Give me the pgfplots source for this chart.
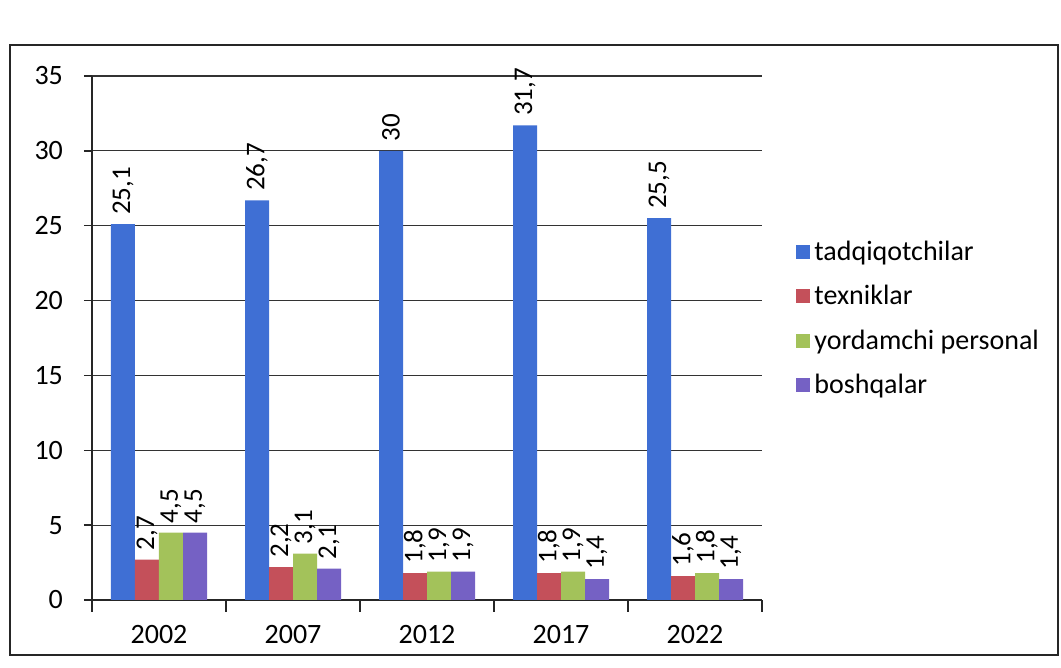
\documentclass[border=0pt]{standalone}
\usepackage{fontspec}
\setmainfont{Carlito}
\usepackage{pgfplots}
\pgfplotsset{compat=1.18}

\definecolor{cBlue}{HTML}{3F6FD4}
\definecolor{cRed}{HTML}{C4505A}
\definecolor{cGreen}{HTML}{A3C25A}
\definecolor{cPurple}{HTML}{7561C4}

\pgfplotsset{
  sq/.style={legend image code/.code={\fill[##1] (0pt,-3.5pt) rectangle (7pt,3.5pt);}},
}

\begin{document}
\begin{tikzpicture}
\useasboundingbox (-46pt,-34pt) rectangle (484.5pt,300pt);
\begin{axis}[
  at={(0,0)}, anchor=south west,
  scale only axis,
  width=335pt, height=262pt,
  ybar=0pt, bar width=12pt,
  xmin=-0.5, xmax=4.5, ymin=0, ymax=35,
  xtick={0,1,2,3,4},
  xticklabels={2002,2007,2012,2017,2022},
  minor xtick={-0.5,0.5,1.5,2.5,3.5,4.5},
  major x tick style={draw=none},
  minor tick length=6pt,
  ytick={0,5,...,35},
  major tick length=4pt,
  tick align=outside,
  axis x line*=bottom, axis y line*=left,
  axis line style={black!85, line width=0.7pt},
  ymajorgrids,
  major grid style={black!80, line width=0.6pt},
  tick style={black!85, line width=0.7pt},
  xticklabel style={yshift=-5pt},
  yticklabel style={xshift=-7pt},
  font=\fontsize{14}{16}\selectfont,
  /pgf/number format/assume math mode=true,
  /pgf/number format/use comma,
  /pgf/number format/1000 sep={},
  nodes near coords,
  every node near coord/.append style={rotate=90, anchor=west, font=\fontsize{13.5}{16}\selectfont, inner sep=4.5pt},
  legend style={draw=none, fill=none, at={(1,0.537)}, anchor=west, xshift=14pt,
    row sep=7pt, font=\fontsize{14}{16}\selectfont, cells={anchor=west}},
]
\addplot[fill=cBlue, draw=none, sq] coordinates {(0,25.1) (1,26.7) (2,30) (3,31.7) (4,25.5)};
\addplot[fill=cRed, draw=none, sq] coordinates {(0,2.7) (1,2.2) (2,1.8) (3,1.8) (4,1.6)};
\addplot[fill=cGreen, draw=none, sq] coordinates {(0,4.5) (1,3.1) (2,1.9) (3,1.9) (4,1.8)};
\addplot[fill=cPurple, draw=none, sq] coordinates {(0,4.5) (1,2.1) (2,1.9) (3,1.4) (4,1.4)};
\legend{tadqiqotchilar, texniklar, yordamchi personal, boshqalar}
\end{axis}
\draw[black!85, line width=0.8pt] (-41pt,-27.5pt) rectangle (483pt,277.5pt);
\end{tikzpicture}
\end{document}
